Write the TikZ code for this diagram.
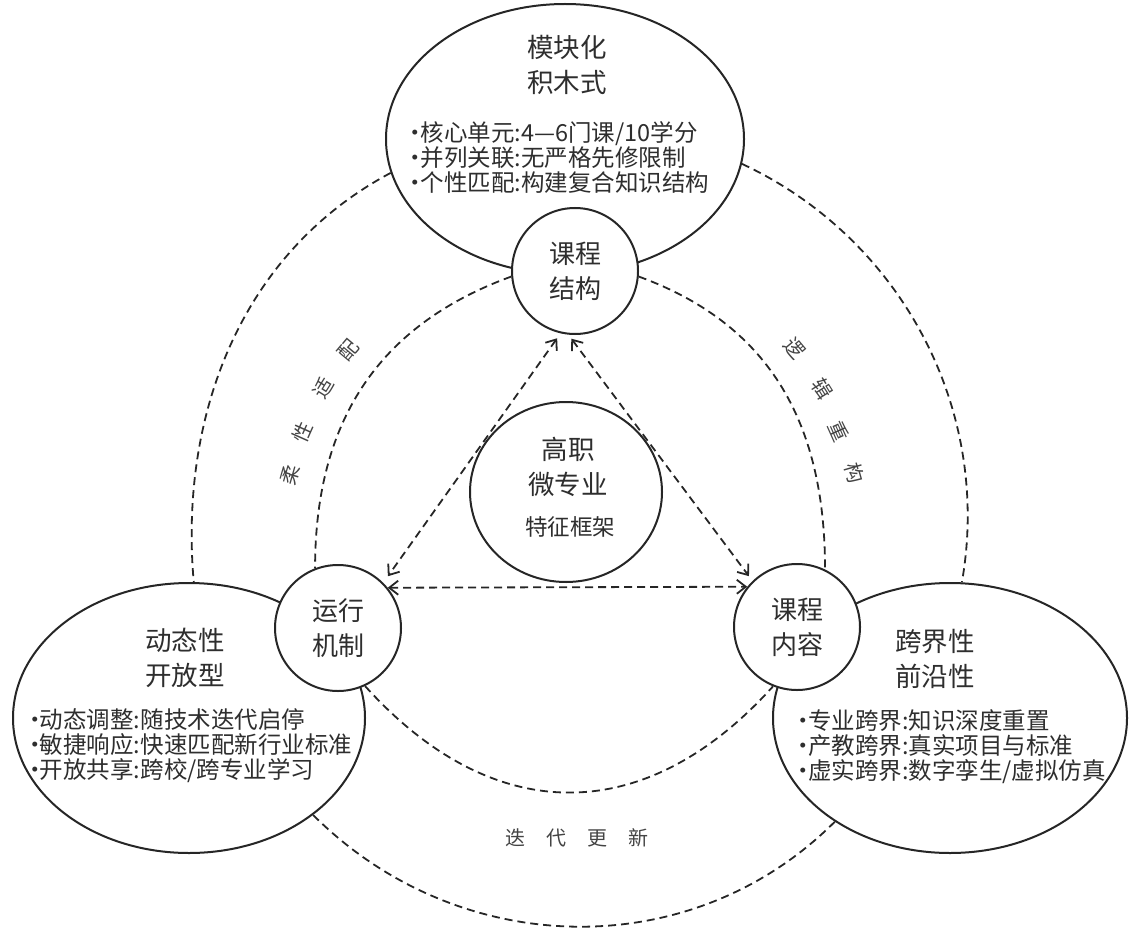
\documentclass[tikz,border=0pt]{standalone}
\usepackage{fontspec}
\setmainfont{Noto Sans CJK SC}
\usetikzlibrary{shapes.geometric,arrows.meta}
\definecolor{linec}{HTML}{262626}
\definecolor{txt}{HTML}{2E2E2E}
\definecolor{labc}{HTML}{444444}
\newcommand\bu{\hbox to 10pt{\hss•\hss}}
\begin{document}
\begin{tikzpicture}[x=1pt,y=-1pt,
  ln/.style={draw=linec, line width=2pt},
  ell/.style={ln, ellipse, fill=white, inner sep=0pt},
  circ/.style={ln, circle, fill=white, minimum size=126pt, inner sep=0pt,
    font=\fontsize{26}{35}\selectfont, align=center, text=txt},
  dsh/.style={draw=linec, line width=1.8pt, dash pattern=on 8pt off 5pt},
  arr/.style={dsh, {Straight Barb[length=9pt,width=14pt]}-{Straight Barb[length=9pt,width=14pt]}},
  head/.style={font=\fontsize{26.5}{35}\selectfont, align=center, text=txt, inner sep=0pt},
  bul/.style={font=\fontsize{23.5}{25}\selectfont, align=left, text=txt, inner sep=0pt},
  lab/.style={font=\fontsize{20}{20}\selectfont, text=labc, inner sep=0pt}
]
\useasboundingbox (0,0) rectangle (1137,936);

% big ellipses
\node[ell, minimum width=358pt, minimum height=270pt] (T) at (565,139) {};
\node[ell, minimum width=352pt, minimum height=270pt] (L) at (189,718) {};
\node[ell, minimum width=354pt, minimum height=270pt] (R) at (950,718) {};
\node[ell, minimum width=192pt, minimum height=180pt] (M) at (566,492) {};

% small circles
\node[circ] (A) at (575,271) {课程\\结构};
\node[circ] (B) at (338,628) {运行\\机制};
\node[circ] (C) at (797,627) {课程\\内容};

% texts in ellipses
\node[head] (Th) at (567,64.5) {模块化\\积木式};
\node[bul] (Tb) at (560,157) {\bu 核心单元:4—6门课/10学分\\\bu 并列关联:无严格先修限制\\\bu 个性匹配:构建复合知识结构};
\node[head] (Lh) at (185,657.5) {动态性\\开放型};
\node[bul] (Lb) at (191,746) {\bu 动态调整:随技术迭代启停\\\bu 敏捷响应:快速匹配新行业标准\\\bu 开放共享:跨校/跨专业学习};
\node[head] (Rh) at (935,658.5) {跨界性\\前沿性};
\node[bul] (Rb) at (952,747) {\bu 专业跨界:知识深度重置\\\bu 产教跨界:真实项目与标准\\\bu 虚实跨界:数字孪生/虚拟仿真};
\node[head] (Mt) at (568,466.5) {高职\\微专业};
\node[text=txt, font=\fontsize{22.5}{25}\selectfont, inner sep=0pt] (Mf) at (570,527) {特征框架};

% outer dashed arcs
\draw[dsh] (T.191) to[out=208,in=95,looseness=0.95] (L.88);
\draw[dsh] (T.352) to[out=-25,in=80,looseness=0.95] (R.85);
\draw[dsh] (L.-38) to[out=-45,in=225] (R.222);

% inner dashed arcs
\draw[dsh] (A.185) to[out=200,in=90,looseness=1.05] (B.111);
\draw[dsh] (A.355) to[out=-20,in=90,looseness=1.05] (C.64);
\draw[dsh] (B.295) to[out=-48,in=228,looseness=1.2] (C.248);

% arrows
\draw[arr, shorten <=6pt, shorten >=8pt] (A.257) -- (B.45);
\draw[arr, shorten <=5pt, shorten >=6pt] (A.264) -- (C.134);
\draw[arr] (B.39) -- (C.141);

% arc labels
\node[lab, rotate=74] (l1) at (290,475) {柔};
\node[lab, rotate=66] (l2) at (303,432) {性};
\node[lab, rotate=58] (l3) at (323,388) {适};
\node[lab, rotate=50] (l4) at (348,350) {配};
\node[lab, rotate=-50] (r1) at (795,348) {逻};
\node[lab, rotate=-58] (r2) at (822,389) {辑};
\node[lab, rotate=-66] (r3) at (839,431) {重};
\node[lab, rotate=-74] (r4) at (855,473) {构};
\node[lab] (b1) at (577,838) {迭\hspace{21pt}代\hspace{21pt}更\hspace{21pt}新};
\end{tikzpicture}
\end{document}
